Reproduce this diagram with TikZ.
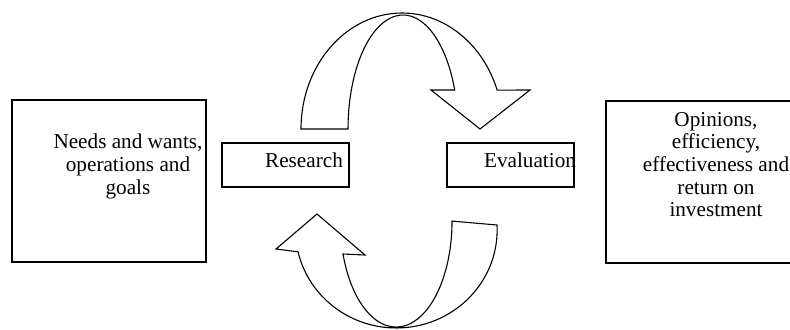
\documentclass[tikz,border=0pt]{standalone}
\usepackage{fontspec}
\setmainfont{Liberation Serif}
\usepackage{tikz}
\usetikzlibrary{positioning}

\tikzset{
  box/.style={draw, line width=0.8pt, inner sep=0pt},
  txt/.style={align=center, inner sep=0pt, font=\fontsize{10.6}{11.3}\selectfont},
  bend arrow/.style={draw, line width=0.55pt, line join=miter, fill=white}
}

\begin{document}
\begin{tikzpicture}[x=0.5pt, y=-0.5pt]
    \useasboundingbox (0,0) rectangle (790,329);
    \clip (0,0) rectangle (790,329);

    % Boxes
    \node[box, minimum width=97pt, minimum height=81pt] (needs) at (109,181) {};
    \node[box, minimum width=63.5pt, minimum height=22pt] (research) at (285.5,165) {};
    \node[box, minimum width=63.5pt, minimum height=22pt] (evaluation) at (510.5,165) {};
    \node[box, minimum width=97pt, minimum height=81pt] (results) at (703,182) {};

    % Texts
    \node[txt] (needstext) at (128,166.5) {Needs and wants,\\operations and\\goals};
    \node[txt, anchor=base] (researchtext) at (304,167) {Research};
    \node[txt, anchor=base] (evaluationtext) at (530,167) {Evaluation};
    \node[txt] (resultstext) at (716,164.5) {Opinions,\\efficiency,\\effectiveness and\\return on\\investment};

    % Upper bent arrow
    \path[bend arrow] (301,129) arc[start angle=180, end angle=340.4, x radius=101, y radius=116]
        -- (530,90) -- (480,129) -- (431,90) -- (454.7,90)
        arc[start angle=340, end angle=180, x radius=55, y radius=114] -- cycle;

    % Lower bent arrow
    \path[bend arrow] (317,214) -- (365,255) -- (343,254)
        arc[start angle=161.9, end angle=0, x radius=55.9, y radius=106]
        -- (497,225)
        arc[start angle=-2.9, end angle=167.1, x radius=100.8, y radius=98]
        -- (276,249) -- cycle;
\end{tikzpicture}
\end{document}
